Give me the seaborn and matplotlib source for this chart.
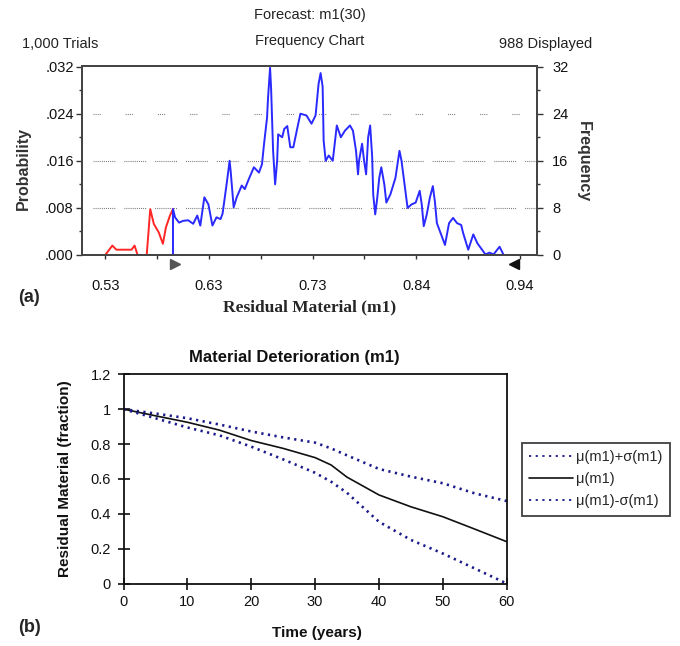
import matplotlib
matplotlib.use("Agg")
import matplotlib.pyplot as plt
import matplotlib.transforms as mtransforms
from matplotlib.ticker import FixedLocator, FuncFormatter
import seaborn as sns

# (a) Forecast m1(30): frequency per bin of residual material
red_x = [0.507, 0.530, 0.537, 0.541, 0.556, 0.559, 0.562, 0.571, 0.5745,
         0.578, 0.583, 0.587, 0.590, 0.594, 0.597]
red_f = [0, 0, 1.6, 0.9, 0.9, 1.6, 0, 0, 7.8,
         5.3, 3.8, 1.9, 4.7, 6.7, 7.8]

blue_x = [0.597, 0.597, 0.599, 0.603, 0.607, 0.612, 0.617, 0.621, 0.624, 0.628,
          0.632, 0.636, 0.640, 0.644, 0.646, 0.650, 0.653, 0.654, 0.657, 0.660,
          0.665, 0.668, 0.672, 0.677, 0.682, 0.685, 0.687, 0.690, 0.691, 0.693,
          0.694, 0.696, 0.698, 0.700, 0.701, 0.705, 0.707, 0.710, 0.713, 0.716,
          0.720, 0.723, 0.729, 0.734, 0.738, 0.741, 0.743, 0.745, 0.746, 0.748,
          0.751, 0.755, 0.759, 0.763, 0.767, 0.772, 0.775, 0.778, 0.780, 0.781,
          0.784, 0.786, 0.788, 0.790, 0.792, 0.794, 0.795, 0.797, 0.799, 0.801,
          0.803, 0.806, 0.808, 0.812, 0.817, 0.821, 0.823, 0.829, 0.833, 0.837,
          0.841, 0.843, 0.845, 0.848, 0.851, 0.854, 0.856, 0.858, 0.863, 0.866,
          0.870, 0.874, 0.878, 0.882, 0.884, 0.889, 0.894, 0.898, 0.906, 0.910,
          0.914, 0.920, 0.924, 0.957]
blue_f = [0, 7.8, 6.4, 5.5, 5.8, 5.9, 5.3, 6.7, 5.0, 9.8,
          8.6, 5.0, 6.4, 6.1, 7.0, 12.0, 16.0, 14.3, 8.1, 9.8,
          11.8, 11.2, 12.9, 14.9, 14.0, 15.4, 18.8, 23.3, 26.7, 31.8,
          28.4, 17.7, 12.0, 16.0, 20.5, 20.0, 21.4, 21.9, 18.3, 18.3,
          21.6, 24.0, 23.7, 22.3, 23.7, 29.1, 30.9, 28.6, 19.4, 16.0,
          16.9, 16.0, 22.0, 20.0, 21.1, 22.0, 21.1, 17.7, 13.7, 16.0,
          18.9, 16.0, 13.7, 20.0, 22.0, 16.6, 10.3, 6.9, 9.7, 13.1,
          14.9, 12.0, 8.9, 10.3, 13.1, 17.7, 16.0, 8.0, 8.6, 8.9,
          10.9, 8.6, 4.9, 6.9, 9.7, 11.7, 9.1, 5.4, 3.1, 1.7,
          5.4, 6.3, 5.4, 5.1, 3.7, 0.9, 3.5, 2.0, 0.1, 0.4,
          0.1, 1.4, 0, 0]

freq_ticks = [0, 8, 16, 24, 32]
freq_minor = [4, 12, 20, 28]
prob_labels = [".000", ".008", ".016", ".024", ".032"]
res_ticks = [0.53, 0.6325, 0.735, 0.8375, 0.94]
res_minor = [0.58125, 0.68375, 0.78625, 0.88875]
res_labels = ["0.53", "0.63", "0.73", "0.84", "0.94"]
grab_left, grab_right = 0.599, 0.934

# (b) Material deterioration m1 over time
years = [0, 5, 10, 15, 20, 25, 30, 32.5, 35, 40, 45, 50, 55, 60]
mu = [1.0, 0.962, 0.925, 0.88, 0.82, 0.775, 0.722, 0.68, 0.61, 0.508, 0.44, 0.383, 0.312, 0.24]
mu_plus = [1.0, 0.975, 0.948, 0.912, 0.872, 0.838, 0.808, 0.775, 0.735, 0.657, 0.613, 0.575, 0.517, 0.473]
mu_minus = [1.0, 0.948, 0.895, 0.85, 0.785, 0.712, 0.635, 0.584, 0.52, 0.354, 0.25, 0.172, 0.086, 0.0]

sns.set_style("white")
plt.rcParams["font.family"] = ["Liberation Sans", "DejaVu Sans"]
plt.rcParams["lines.scale_dashes"] = False

fig = plt.figure(figsize=(6.8, 6.46), dpi=100)
W, H = 680, 646

def fx(px):
    return px / W

def fy(py):
    return 1 - py / H

# ---------------- panel (a) ----------------
ax = fig.add_axes([fx(82), fy(255), fx(537) - fx(82), fy(66) - fy(255)])
sns.lineplot(x=red_x, y=red_f, ax=ax, color="#ff2626", lw=1.4, sort=False, estimator=None)
sns.lineplot(x=blue_x, y=blue_f, ax=ax, color="#2a2aff", lw=1.4, sort=False, estimator=None)

ax.set_xlim(0.507, 0.957)
ax.set_ylim(0, 32.1)

grid_long = (0, (0.7, 0.8) * 10 + (0.7, 6.5))
grid_short = (0, (0.7, 0.8) * 3 + (0.7, 18.0))
for lvl, ls in [(8, grid_long), (16, grid_long), (24, grid_short)]:
    ax.plot([0.518, 0.957], [lvl, lvl], color="#777777", lw=0.8, ls=ls, zorder=0)

ax.xaxis.set_major_locator(FixedLocator(res_ticks))
ax.xaxis.set_minor_locator(FixedLocator(res_minor))
ax.set_xticklabels(res_labels)
ax.yaxis.set_major_locator(FixedLocator(freq_ticks))
ax.yaxis.set_minor_locator(FixedLocator(freq_minor))
ax.set_yticklabels(prob_labels)
ax.tick_params(axis="x", which="both", direction="out", length=3, width=1, colors="#333333",
               pad=14, labelsize=10.5, bottom=True)
ax.tick_params(axis="y", which="major", direction="out", length=4, width=1, colors="#333333",
               pad=2, labelsize=10.5, left=True)
ax.tick_params(axis="y", which="minor", direction="out", length=2, width=1, colors="#333333", left=True)
for lbl in ax.get_xticklabels() + ax.get_yticklabels():
    lbl.set_color("#111111")

ax_r = ax.twinx()
ax_r.set_ylim(ax.get_ylim())
ax_r.yaxis.set_major_locator(FixedLocator(freq_ticks))
ax_r.yaxis.set_minor_locator(FixedLocator(freq_minor))
ax_r.set_yticklabels([str(t) for t in freq_ticks])
ax_r.tick_params(axis="y", which="major", direction="out", length=4, width=1, colors="#333333",
                 pad=7, labelsize=10.5, right=True)
ax_r.tick_params(axis="y", which="minor", direction="out", length=2, width=1, colors="#333333", right=True)
for lbl in ax_r.get_yticklabels():
    lbl.set_color("#111111")
for a in (ax, ax_r):
    for s in a.spines.values():
        s.set_color("#444444")
        s.set_linewidth(1.3)

# certainty grabbers
trans = mtransforms.blended_transform_factory(ax.transData, ax.transAxes)
ax.plot([grab_left], [-0.045], marker=">", ms=7, color="#555555", transform=trans, clip_on=False)
ax.plot([grab_right], [-0.045], marker="<", ms=7, color="#111111", transform=trans, clip_on=False)

fig.text(fx(310), fy(15), "Forecast: m1(30)", ha="center", va="center", fontsize=10.5, color="#222222")
fig.text(fx(310), fy(41), "Frequency Chart", ha="center", va="center", fontsize=10.5, color="#222222")
fig.text(fx(22), fy(44), "1,000 Trials", ha="left", va="center", fontsize=10.5, color="#222222")
fig.text(fx(592), fy(44), "988 Displayed", ha="right", va="center", fontsize=10.5, color="#222222")
fig.text(fx(23), fy(168), "Probability", rotation=90, ha="center", va="center",
         fontsize=11.5, fontweight="bold", color="#333333")
fig.text(fx(583), fy(162), "Frequency", rotation=270, ha="center", va="center",
         fontsize=11.5, fontweight="bold", color="#333333")
fig.text(fx(310), fy(307), "Residual Material (m1)", ha="center", va="center",
         fontsize=12.5, fontweight="bold", family=["Liberation Serif", "DejaVu Serif"])
fig.text(fx(18), fy(297), "(a)", ha="left", va="center", fontsize=13, fontweight="bold")

# ---------------- panel (b) ----------------
ax2 = fig.add_axes([fx(123.5), fy(583.5), fx(506.7) - fx(123.5), fy(374.3) - fy(583.5)])
dots = (0, (1.6, 3.2))
sns.lineplot(x=years, y=mu_plus, ax=ax2, color="#1a1a8a", lw=1.9, ls=dots, label="\u03bc(m1)+\u03c3(m1)")
sns.lineplot(x=years, y=mu, ax=ax2, color="#111111", lw=1.2, label="\u03bc(m1)")
sns.lineplot(x=years, y=mu_minus, ax=ax2, color="#1a1a8a", lw=1.9, ls=dots, label="\u03bc(m1)-\u03c3(m1)")

ax2.set_xlim(0, 60)
ax2.set_ylim(0, 1.2)
ax2.set_xticks([0, 10, 20, 30, 40, 50, 60])
ax2.set_yticks([0, 0.2, 0.4, 0.6, 0.8, 1.0, 1.2])
ax2.yaxis.set_major_formatter(FuncFormatter(lambda v, p: f"{v:g}"))
ax2.tick_params(axis="x", direction="inout", length=8, width=1.2, pad=4, labelsize=10.5,
                bottom=True, colors="#111111")
ax2.tick_params(axis="y", direction="inout", length=8, width=1.2, pad=5, labelsize=10.5,
                left=True, colors="#111111")
ax2.set_xlabel("")
ax2.set_ylabel("")
for s in ax2.spines.values():
    s.set_color("#111111")
    s.set_linewidth(1.3)

leg = ax2.legend(loc="upper left", bbox_to_anchor=(fx(522), fy(443)), bbox_transform=fig.transFigure,
                 frameon=True, fancybox=False, borderaxespad=0, fontsize=10.5,
                 handlelength=3.0, handletextpad=0.2, borderpad=0.5, labelspacing=0.55)
leg.get_frame().set_edgecolor("#111111")
leg.get_frame().set_linewidth(1.3)
for h in leg.get_lines():
    h.set_linewidth(1.2) if h.get_linestyle() == "-" else h.set_linewidth(1.3)

fig.text(fx(294), fy(357), "Material Deterioration (m1)", ha="center", va="center",
         fontsize=12, fontweight="bold", color="#111111")
fig.text(fx(317), fy(633), "Time (years)", ha="center", va="center",
         fontsize=11, fontweight="bold", color="#111111")
fig.text(fx(65), fy(479), "Residual Material (fraction)", rotation=90, ha="center", va="center",
         fontsize=11, fontweight="bold", color="#111111")
fig.text(fx(18), fy(627), "(b)", ha="left", va="center", fontsize=13, fontweight="bold")

fig.savefig("out.png", dpi=100)
